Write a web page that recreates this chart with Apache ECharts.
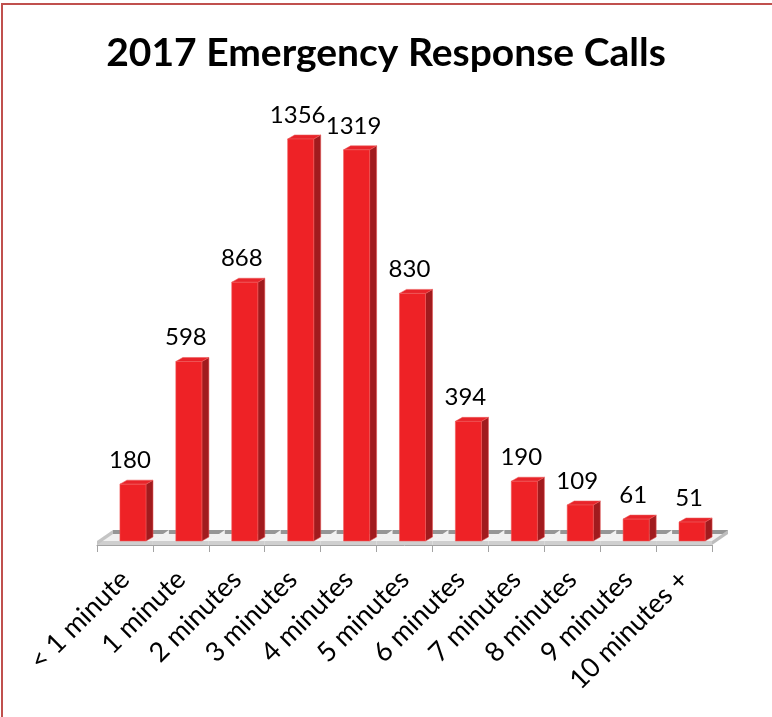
<!DOCTYPE html>
<html>
<head>
<meta charset="utf-8">
<style>
  html, body { margin: 0; padding: 0; background: #fff; }
  #chart { width: 772px; height: 717px; }
</style>
<script src="https://cdn.jsdelivr.net/npm/echarts@6/dist/echarts.min.js"></script>
</head>
<body>
<div id="chart"></div>
<script>
// Response time buckets and number of calls in each
const categories = ['< 1 minute', '1 minute', '2 minutes', '3 minutes', '4 minutes', '5 minutes',
                    '6 minutes', '7 minutes', '8 minutes', '9 minutes', '10 minutes +'];
const calls = [180, 598, 868, 1356, 1319, 830, 394, 190, 109, 61, 51];
const titleText = '2017 Emergency Response Calls';

const chart = echarts.init(document.getElementById('chart'), null, { renderer: 'canvas' });

// Pseudo-3D geometry
const BAR_DX = 7, BAR_DY = 4;      // bar depth
const FLOOR_DX = 16, FLOOR_DY = 15; // floor depth
const SLAB = 4;                     // floor thickness
const BAR_SHIFT = 8;                // bars sit mid-depth on the floor

const data = calls.map((v, i) => [i, v]);

function floorItem(params, api) {
  const i = api.value(0);
  const base = api.coord([i, 0]);
  const band = api.size([1, 0])[0];
  const x0 = base[0] - band / 2, x1 = base[0] + band / 2, Y = base[1];
  const children = [
    { type: 'polygon', shape: { points: [[x0, Y - SLAB], [x1, Y - SLAB], [x1 + FLOOR_DX, Y - FLOOR_DY], [x0 + FLOOR_DX, Y - FLOOR_DY]] },
      style: { fill: '#f1f1f1' } },
    { type: 'polygon', shape: { points: [[x0 + FLOOR_DX, Y - FLOOR_DY], [x1 + FLOOR_DX, Y - FLOOR_DY], [x1 + FLOOR_DX, Y - FLOOR_DY + 4], [x0 + FLOOR_DX, Y - FLOOR_DY + 4]] },
      style: { fill: '#969696' } },
    { type: 'rect', shape: { x: x0, y: Y - SLAB, width: x1 - x0, height: SLAB },
      style: { fill: '#cfcfcf' } }
  ];
  if (i === 0) {
    children.push({ type: 'polygon', shape: { points: [[x0, Y], [x0, Y - SLAB], [x0 + FLOOR_DX, Y - FLOOR_DY], [x0 + FLOOR_DX, Y - FLOOR_DY + SLAB]] },
      style: { fill: '#c4c4c4' } });
  }
  if (i === categories.length - 1) {
    children.push({ type: 'polygon', shape: { points: [[x1, Y], [x1, Y - SLAB], [x1 + FLOOR_DX, Y - FLOOR_DY], [x1 + FLOOR_DX, Y - FLOOR_DY + SLAB]] },
      style: { fill: '#bdbdbd' } });
  }
  return { type: 'group', children };
}

function barItem(params, api) {
  const i = api.value(0), v = api.value(1);
  const base = api.coord([i, 0]);
  const top = api.coord([i, v]);
  const band = api.size([1, 0])[0];
  const half = band * 0.233;
  const cx = base[0] + BAR_SHIFT;
  const xl = cx - half, xr = cx + half;
  const yb = base[1] - SLAB;
  const yt = top[1] - 8;
  return {
    type: 'group',
    children: [
      { type: 'polygon', shape: { points: [[xr, yb], [xr + BAR_DX, yb - BAR_DY], [xr + BAR_DX, yt - BAR_DY], [xr, yt]] },
        style: { fill: '#a11b1e', stroke: 'rgba(230,80,80,0.55)', lineWidth: 1 } },
      { type: 'polygon', shape: { points: [[xl, yt], [xl + BAR_DX, yt - BAR_DY], [xr + BAR_DX, yt - BAR_DY], [xr, yt]] },
        style: { fill: '#e8242a', stroke: 'rgba(235,90,90,0.55)', lineWidth: 1 } },
      { type: 'rect', shape: { x: xl, y: yt, width: xr - xl, height: yb - yt },
        style: { fill: '#ee2226', stroke: 'rgba(240,90,90,0.55)', lineWidth: 1 } },
      { type: 'text', style: { text: String(v), x: cx - 3, y: yt - BAR_DY - 20,
          align: 'center', verticalAlign: 'middle', font: '24px Lato', fill: '#000' } }
    ]
  };
}

chart.setOption({
  animation: false,
  backgroundColor: '#ffffff',
  title: {
    text: titleText,
    left: 'center',
    top: 29,
    textStyle: { fontFamily: 'Lato', fontWeight: 'bold', fontSize: 39, color: '#000' }
  },
  graphic: [
    { type: 'rect', silent: true, shape: { x: 2, y: 4, width: 820, height: 800 },
      style: { fill: 'none', stroke: '#c0504d', lineWidth: 2 } }
  ],
  grid: { left: 97, top: 75.4, width: 615, height: 469.6 },
  xAxis: {
    type: 'category',
    data: categories,
    boundaryGap: true,
    axisLine: { show: true, lineStyle: { color: '#a3a3a3', width: 1 } },
    axisTick: { show: true, length: 7, lineStyle: { color: '#a3a3a3' } },
    axisLabel: { rotate: 45, margin: 30, fontFamily: 'Lato', fontSize: 27, color: '#000', interval: 0 }
  },
  yAxis: {
    type: 'value', min: 0, max: 1600, show: false,
    splitLine: { show: false }
  },
  series: [
    { type: 'custom', name: 'floor', renderItem: floorItem, data: data, z: 1, silent: true },
    { type: 'custom', name: 'calls', renderItem: barItem, data: data, z: 2 }
  ]
});
</script>
</body>
</html>
